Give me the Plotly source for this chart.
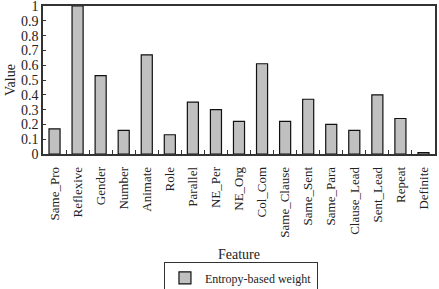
import plotly.graph_objects as go

features = ["Same_Pro", "Reflexive", "Gender", "Number", "Animate", "Role", "Parallel",
            "NE_Per", "NE_Org", "Col_Com", "Same_Clause", "Same_Sent", "Same_Para",
            "Clause_Lead", "Sent_Lead", "Repeat", "Definite"]
weights = [0.17, 1.0, 0.53, 0.16, 0.67, 0.13, 0.35, 0.30, 0.22, 0.61, 0.22, 0.37, 0.20,
           0.16, 0.40, 0.24, 0.01]
y_ticks = [0, 0.1, 0.2, 0.3, 0.4, 0.5, 0.6, 0.7, 0.8, 0.9, 1]

font = "'Liberation Serif', 'Times New Roman', serif"

fig = go.Figure()
fig.add_trace(go.Bar(
    x=features, y=weights, name="Entropy-based weight",
    marker=dict(color="#c0c0c0", line=dict(color="#111", width=1.2)),
    showlegend=True,
))

fig.update_layout(
    width=439, height=289,
    margin=dict(l=43, r=4, t=6, b=135, autoexpand=False),
    paper_bgcolor="white", plot_bgcolor="white",
    font=dict(family=font, color="#222", size=13),
    bargap=0.52,
    showlegend=True,
    legend=dict(
        orientation="h", x=0.505, xanchor="center",
        yref="container", y=0.092, yanchor="top",
        bordercolor="#333", borderwidth=1, font=dict(family=font, size=12),
        itemwidth=30, tracegroupgap=0,
    ),
    xaxis=dict(
        title=dict(text="Feature", font=dict(family=font, size=14), standoff=12),
        tickangle=-90, tickfont=dict(family=font, size=13),
        ticklabelstandoff=6,
        showline=True, linecolor="#333", linewidth=1.5, mirror=True,
        ticks="inside", ticklen=4, tickson="boundaries", tickcolor="#333",
        showgrid=False, automargin=False,
    ),
    yaxis=dict(
        title=dict(text="Value", font=dict(family=font, size=14), standoff=2),
        range=[0, 1.0001], tickvals=y_ticks, ticktext=[f"{v:g}" for v in y_ticks],
        tickfont=dict(family=font, size=14), ticklabeloverflow="allow",
        showline=True, linecolor="#333", linewidth=1.5, mirror=True,
        ticks="inside", ticklen=3, tickcolor="#333",
        showgrid=False, zeroline=False, automargin=False,
    ),
)

fig.write_html("out.html")
